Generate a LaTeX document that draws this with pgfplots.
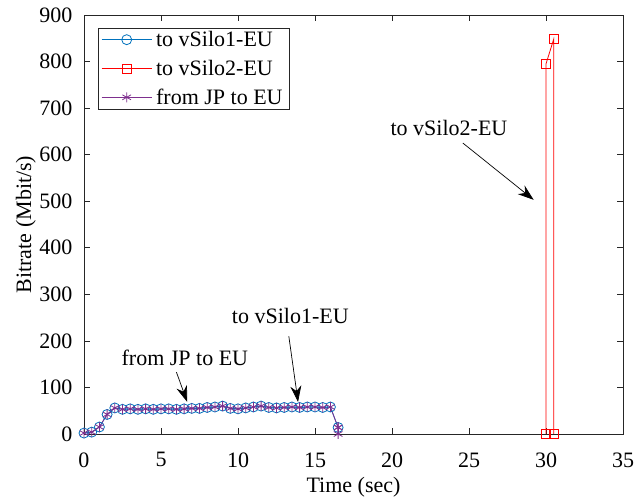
\documentclass[border=0pt]{standalone}
\usepackage{pgfplots}
\pgfplotsset{compat=1.18}
\usepackage{fontspec}
\setmainfont{Liberation Serif}
\usetikzlibrary{arrows.meta}
\definecolor{mblue}{rgb}{0,0.447,0.741}
\definecolor{mpurple}{rgb}{0.494,0.184,0.556}
\definecolor{axgray}{rgb}{0.15,0.15,0.15}

\pgfplotstableread{
t v
0 2
0.5 4
1 15
1.5 42
2 56
2.5 53
3 54
3.5 53
4 54
4.5 53
5 54
5.5 54
6 53
6.5 54
7 55
7.5 55
8 57
8.5 58
9 60
9.5 55
10 54
10.5 56
11 58
11.5 60
12 57
12.5 56
13 57
13.5 58
14 57
14.5 58
15 58
15.5 57
16 58
16.5 14
}\silotable

\begin{document}
\begin{tikzpicture}
\useasboundingbox (-84pt,-63pt) rectangle (550pt,434pt);
\begin{axis}[
  scale only axis, width=539pt, height=419pt,
  xmin=0, xmax=35, ymin=0, ymax=900,
  xtick={0,5,...,35}, ytick={0,100,...,900},
  tick align=inside, major tick length=6pt,
  tick style={axgray, line width=0.6pt},
  axis line style={axgray, line width=0.6pt},
  ticklabel style={font=\fontsize{22}{24}\selectfont},
  xticklabel style={yshift=-15pt},
  yticklabel style={xshift=-8pt},
  /pgf/number format/assume math mode=true,
  xlabel={Time (sec)}, ylabel={Bitrate (Mbit/s)},
  label style={font=\fontsize{22}{24}\selectfont},
  xlabel style={at={(axis description cs:0.5,-0.127)}, anchor=center},
  ylabel style={at={(axis description cs:-0.108,0.5)}, anchor=center},
  legend style={at={(0.026,0.969)}, anchor=north west,
    font=\fontsize{22}{24}\selectfont, draw=axgray, line width=0.6pt,
    cells={anchor=west}, row sep=8pt, inner xsep=3pt, inner ysep=1pt,
    nodes={inner xsep=4pt}},
  legend image code/.code={%
    \draw[mark repeat=2, mark phase=2] plot coordinates {(0pt,0pt) (25pt,0pt) (50pt,0pt)};},
]
\addplot[mblue, line width=0.8pt, mark=o, mark size=5pt] table {\silotable};
\addlegendentry{to vSilo1-EU}
\addplot[mpurple, line width=0.8pt, forget plot] coordinates {(16.5,0) (35,0)};
\addplot[red, line width=0.8pt, mark=square, mark size=4.5pt] coordinates {
  (30,0) (30,795) (30.5,848) (30.5,0)
};
\addlegendentry{to vSilo2-EU}
\addplot[mpurple, line width=0.8pt, mark=asterisk, mark size=5pt] table {\silotable};
\addlegendentry{from JP to EU}
\addplot[mpurple, line width=0.8pt, mark=asterisk, mark size=5pt, forget plot] coordinates {(16.5,14) (16.5,0)};

\node[font=\fontsize{22}{24}\selectfont] at (axis cs:23.7,657) {to vSilo2-EU};
\draw[black, line width=0.7pt, -{Stealth[length=16pt,width=11pt]}] (axis cs:24.6,625) -- (axis cs:29.2,503);
\node[font=\fontsize{22}{24}\selectfont] at (axis cs:13.4,253) {to vSilo1-EU};
\draw[black, line width=0.7pt, -{Stealth[length=16pt,width=11pt]}] (axis cs:13.3,210) -- (axis cs:13.9,69);
\node[font=\fontsize{22}{24}\selectfont] at (axis cs:6.55,163) {from JP to EU};
\draw[black, line width=0.7pt, -{Stealth[length=16pt,width=11pt]}] (axis cs:6.0,133) -- (axis cs:6.7,69);
\end{axis}
\end{tikzpicture}
\end{document}
